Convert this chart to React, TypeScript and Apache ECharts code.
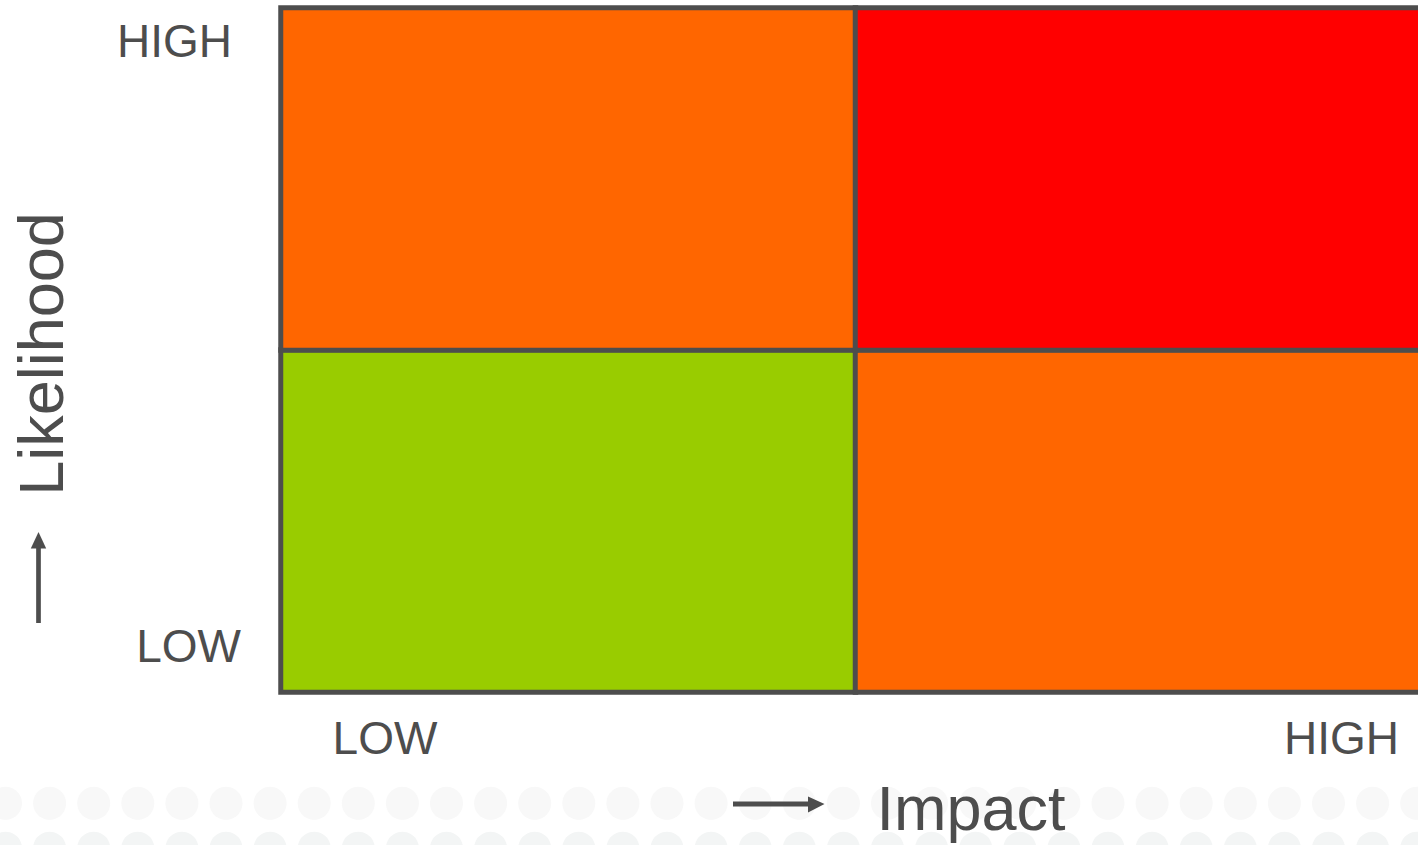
import React, { useEffect, useRef } from "react";
import * as echarts from "echarts";

const impactLevels = ["LOW", "HIGH"];
const likelihoodLevels = ["LOW", "HIGH"];
// [impactIndex, likelihoodIndex, riskLevel]
const riskCells = [
  [0, 0, 1],
  [1, 0, 2],
  [0, 1, 2],
  [1, 1, 3],
];
const riskColors = ["#99CC00", "#FF6600", "#FF0000"];
const xAxisTitle = "Impact";
const yAxisTitle = "Likelihood";

const FONT = "'Liberation Sans', Arial, sans-serif";
const INK = "#4d4d4d";

export default function App() {
  const ref = useRef<HTMLDivElement>(null);

  useEffect(() => {
    if (!ref.current) return;
    const chart = echarts.init(ref.current, undefined, { renderer: "svg" });

    // decorative background dots
    const dots: any[] = [];
    const rows = [
      { cy: 803.3, fill: "#f8f8f8" },
      { cy: 848.2, fill: "#f3f5f5" },
    ];
    rows.forEach((r) => {
      for (let k = 0; k < 34; k++) {
        dots.push({
          type: "circle",
          shape: { cx: 5.5 + 44.1 * k, cy: r.cy, r: 16.5 },
          style: { fill: r.fill },
          silent: true,
        });
      }
    });

    const option: any = {
      animation: false,
      backgroundColor: "#ffffff",
      grid: {
        left: 281,
        top: 8,
        right: -12,
        bottom: 153,
        containLabel: false,
        outerBoundsMode: "none",
      },
      xAxis: {
        type: "category",
        data: impactLevels,
        name: xAxisTitle,
        nameLocation: "middle",
        nameGap: 84.5,
        nameMoveOverlap: false,
        nameTextStyle: {
          fontFamily: FONT,
          fontSize: 63,
          color: INK,
          padding: [0, 0, 0, 231],
        },
        axisLine: { show: false },
        axisTick: { show: false },
        splitLine: { show: false },
        splitArea: { show: false },
        axisLabel: {
          interval: 0,
          margin: 22.5,
          fontFamily: FONT,
          fontSize: 46,
          color: INK,
          formatter: (v: string) => (v === "LOW" ? "{l|" + v + "}" : "{h|" + v + "}"),
          rich: {
            l: { fontFamily: FONT, fontSize: 46, color: INK, padding: [0, 366.5, 0, 0] },
            h: { fontFamily: FONT, fontSize: 46, color: INK, padding: [0, 0, 0, 397.5] },
          },
        },
      },
      yAxis: {
        type: "category",
        data: likelihoodLevels,
        name: yAxisTitle,
        nameLocation: "middle",
        nameGap: 208.5,
        nameMoveOverlap: false,
        nameTextStyle: {
          fontFamily: FONT,
          fontSize: 63,
          color: INK,
          padding: [0, 8, 0, 0],
        },
        axisLine: { show: false },
        axisTick: { show: false },
        splitLine: { show: false },
        splitArea: { show: false },
        axisLabel: {
          interval: 0,
          margin: 40,
          fontFamily: FONT,
          fontSize: 46,
          color: INK,
          formatter: (v: string) => (v === "LOW" ? "{l|" + v + "}" : "{h|" + v + "}"),
          rich: {
            l: { fontFamily: FONT, fontSize: 46, color: INK, padding: [249.6, 0, 0, 0] },
            h: { fontFamily: FONT, fontSize: 46, color: INK, padding: [0, 9, 277, 0] },
          },
        },
      },
      visualMap: {
        type: "piecewise",
        show: false,
        dimension: 2,
        pieces: riskColors.map((c, i) => ({ value: i + 1, color: c })),
      },
      series: [
        {
          type: "heatmap",
          data: riskCells,
          itemStyle: { borderColor: INK, borderWidth: 5 },
          label: { show: false },
          emphasis: { disabled: true },
          z: 2,
        },
      ],
      graphic: [
        { type: "group", z: -10, silent: true, children: dots },
        {
          type: "group",
          z: 10,
          silent: true,
          children: [
            {
              type: "line",
              shape: { x1: 733, y1: 804, x2: 810, y2: 804 },
              style: { stroke: INK, lineWidth: 5 },
            },
            {
              type: "polygon",
              shape: { points: [[824.5, 804], [808, 796.5], [808, 812.5]] },
              style: { fill: INK },
            },
            {
              type: "line",
              shape: { x1: 38.5, y1: 623, x2: 38.5, y2: 547 },
              style: { stroke: INK, lineWidth: 4.7 },
            },
            {
              type: "polygon",
              shape: { points: [[38.5, 532], [30.8, 548.5], [46.2, 548.5]] },
              style: { fill: INK },
            },
          ],
        },
      ],
    };

    chart.setOption(option);
    return () => chart.dispose();
  }, []);

  return (
    <div
      ref={ref}
      style={{ position: "absolute", left: 0, top: 0, width: 1418, height: 845, background: "#fff" }}
    />
  );
}
